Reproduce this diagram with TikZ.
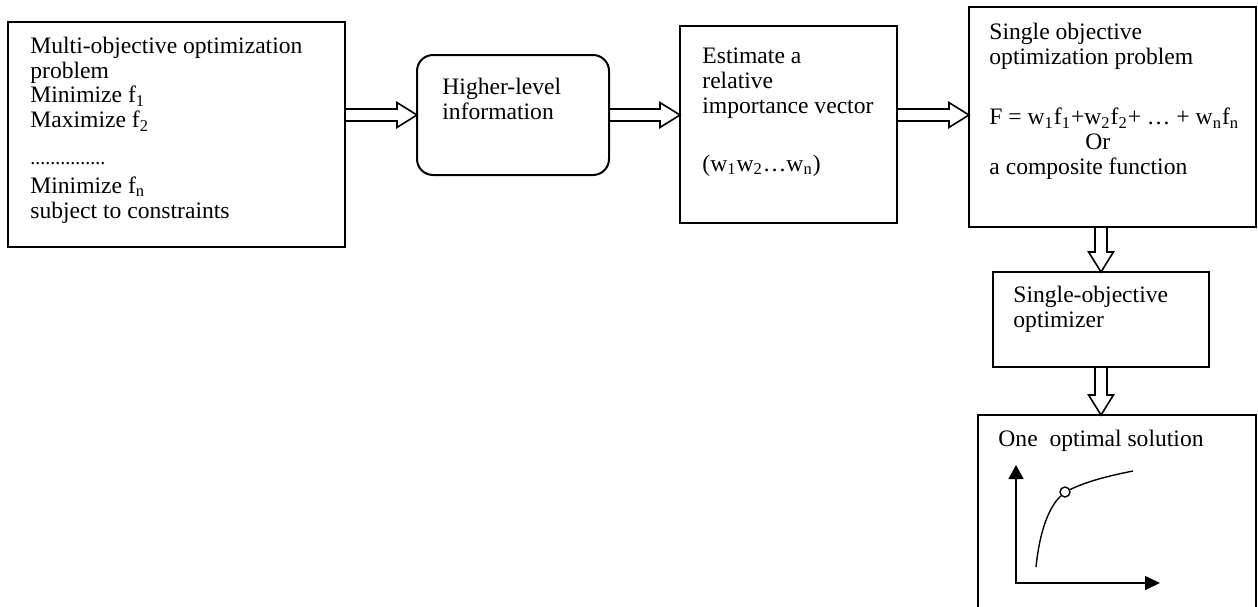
\documentclass[tikz,border=0pt]{standalone}
\usepackage{fontspec}
\setmainfont{Liberation Serif}
\usetikzlibrary{positioning, calc, fit, arrows.meta}

% hollow block arrow from #1 to #2
\newcommand{\hollowarrow}[2]{%
  \coordinate (ha) at (#1);
  \coordinate (hb) at (#2);
  \coordinate (hh) at ($(hb)!10pt!(ha)$);
  \draw[hollow] ($(ha)!3pt!90:(hb)$) -- ($(hh)!3pt!-90:(ha)$) -- ($(hh)!6.2pt!-90:(ha)$)
    -- (hb) -- ($(hh)!6.2pt!90:(ha)$) -- ($(hh)!3pt!90:(ha)$) -- ($(ha)!3pt!-90:(hb)$);
}

\begin{document}
\begin{tikzpicture}[x=0.5pt, y=-0.5pt,
box/.style={draw, line width=1pt, inner sep=0pt, outer sep=0pt, fit={#1}},
hollow/.style={line width=0.8pt, line join=miter},
axis/.style={line width=0.8pt, {Triangle[length=7pt,width=7.5pt]}-{Triangle[length=7.5pt,width=7pt]}},
curve/.style={line width=0.7pt}]
\tikzstyle{txt}=[anchor=base west, align=left, inner sep=0pt, font=\fontsize{11.8}{12.4}\selectfont]
\useasboundingbox (0,0) rectangle (1258,606);

% boxes
\node[box={(8,22) (345,247)}] (Multi) {};
\node[box={(417,55) (609,175)}, rounded corners=8pt] (Info) {};
\node[box={(680,26) (897,223)}] (Weights) {};
\node[box={(969,7) (1256,227)}] (Single) {};
\node[box={(993,272) (1209,367)}] (Optimizer) {};
\node[box={(978,415) (1256,614)}] (Solution) {};

% texts (placed by the baseline of their last line)
\node[txt] (MultiText) at (30,218) {Multi-objective optimization\\ problem\\ Minimize f\textsubscript{1}\\
  Maximize f\textsubscript{2}\\[6pt] {\fontsize{10}{10}\selectfont ...............}\\[2pt]
  Minimize f\textsubscript{n}\\ subject to constraints};
\node[txt] (InfoText) at (442,119) {Higher-level\\ information};
\node[txt] (WeightsText) at (702,171) {Estimate a\\ relative\\ importance vector\\[16.6pt]
  (w\textsubscript{1}w\textsubscript{2}…w\textsubscript{n})};
\node[txt] (SingleText) at (989,174) {Single objective\\ optimization problem\\[17.6pt]
  F = w\textsubscript{1}f\textsubscript{1}+w\textsubscript{2}f\textsubscript{2}+ … + w\textsubscript{n}f\textsubscript{n}\\
  \hspace*{48pt}Or\\ a composite function};
\node[txt] (OptimizerText) at (1013,327) {Single-objective\\ optimizer};
\node[txt] (SolutionText) at (998,446) {One\ \ optimal solution};

% arrows
\coordinate (row) at (0,115);
\coordinate (col) at (1101,0);
\hollowarrow{Multi.east |- row}{Info.west |- row}
\hollowarrow{Info.east |- row}{Weights.west |- row}
\hollowarrow{Weights.east |- row}{Single.west |- row}
\hollowarrow{Single.south -| col}{Optimizer.north -| col}
\hollowarrow{Optimizer.south -| col}{Solution.north -| col}

% small plot
\coordinate (origin) at (1016,583);
\coordinate (ytip) at (1016,465);
\coordinate (xtip) at (1160,583);
\draw[axis] (ytip) -- (origin) -- (xtip);
\coordinate (c0) at (1036,567);
\coordinate (c1) at (1133,471);
\node[circle, draw, line width=0.7pt, fill=white, inner sep=0pt, minimum size=5pt] (opt) at (1065,492) {};
\draw[curve] (c0) .. controls (1040,528) and (1050,506) .. (opt);
\draw[curve] (opt) .. controls (1088,481) and (1108,476) .. (c1);
\end{tikzpicture}
\end{document}
